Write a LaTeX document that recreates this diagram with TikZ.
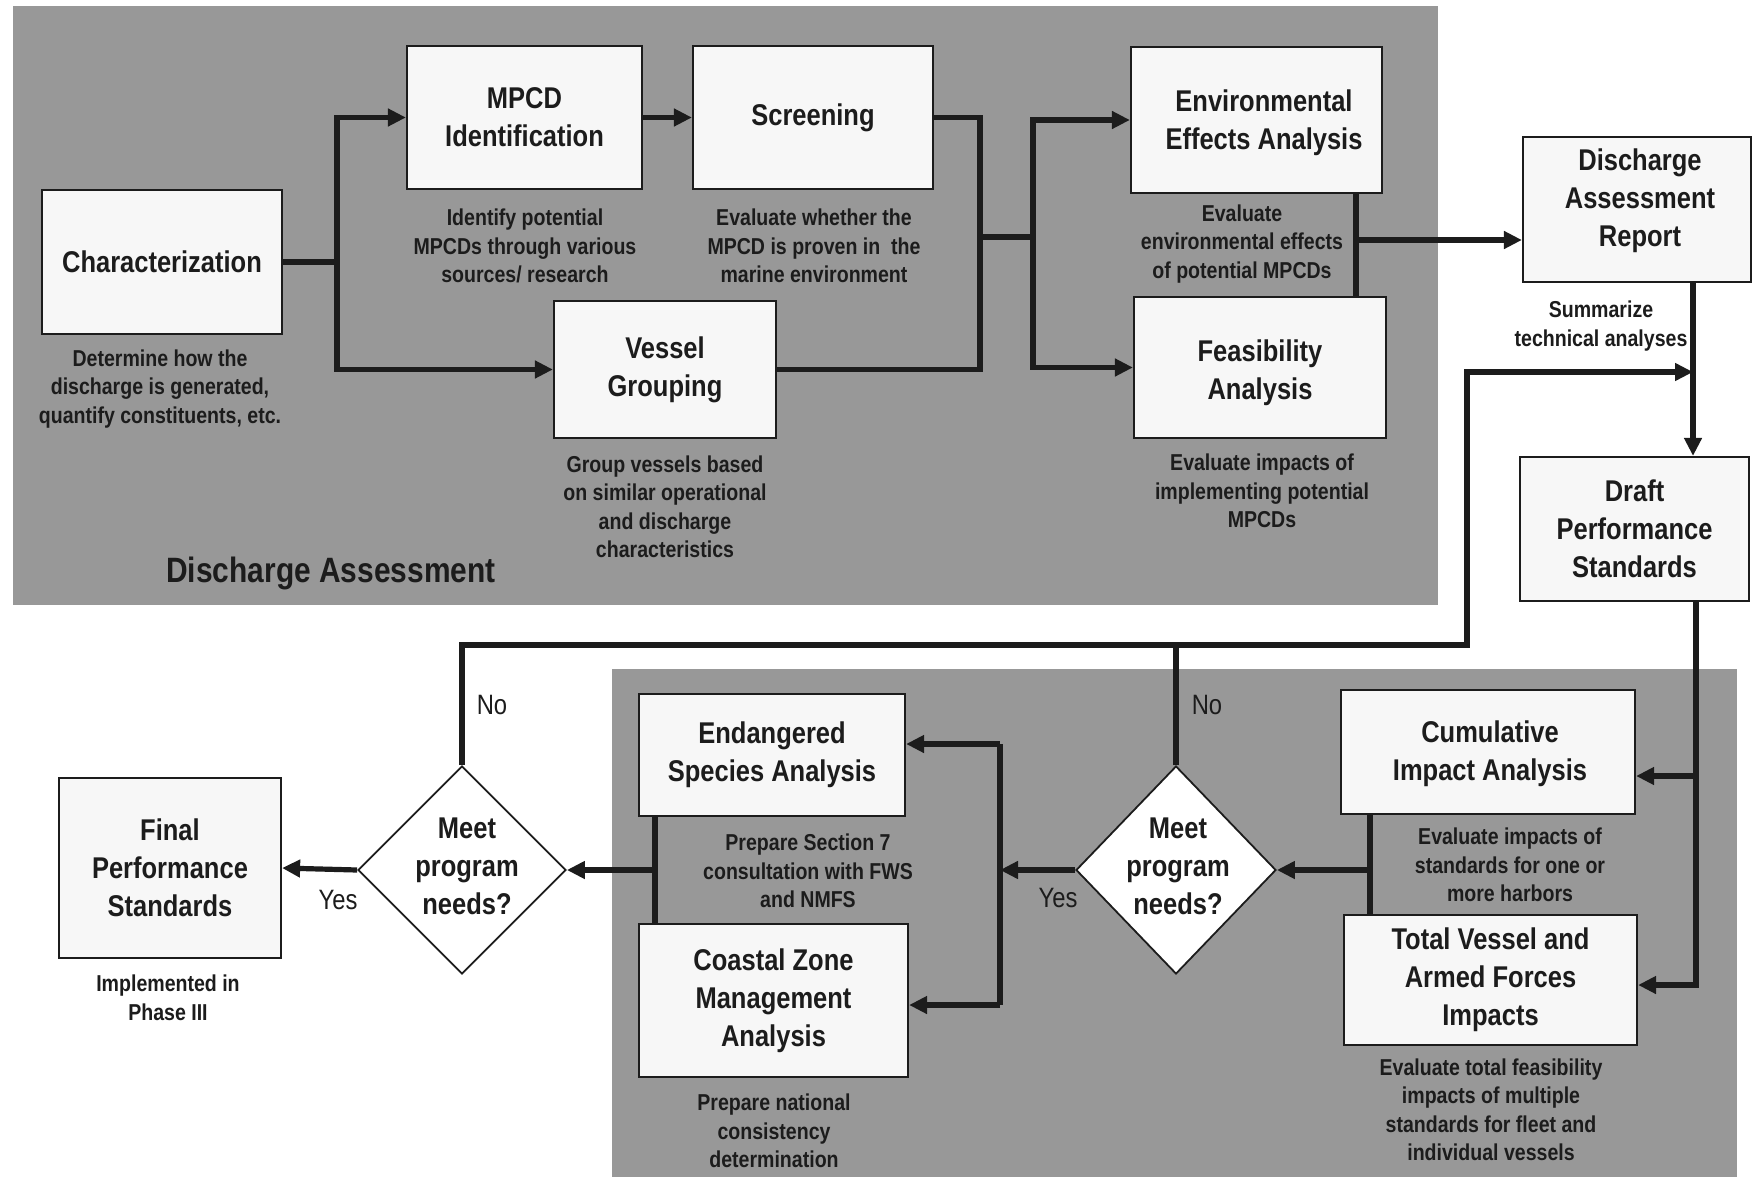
\documentclass[tikz,border=0pt]{standalone}
\usepackage{fontspec}
\setmainfont{Liberation Sans}[FakeStretch=0.85]
\usetikzlibrary{arrows.meta,shapes.geometric}
\definecolor{panel}{RGB}{152,152,152}
\definecolor{ink}{RGB}{28,28,28}
\definecolor{boxfill}{RGB}{247,247,247}
\begin{document}
\begin{tikzpicture}[x=0.5pt,y=-0.5pt,
  box/.style={draw=ink, line width=1.1pt, fill=boxfill, align=center, inner sep=2pt,
    font=\fontsize{15}{19}\selectfont\bfseries, text=ink},
  btext/.style={align=center, inner sep=0pt, font=\fontsize{15}{19}\selectfont\bfseries, text=ink},
  desc/.style={align=center, font=\fontsize{11.5}{14.25}\selectfont\bfseries, text=ink, inner sep=0pt},
  conn/.style={draw=ink, line width=2.6pt},
  arr/.style={conn, -{Triangle[length=9pt,width=8.5pt]}},
  dia/.style={diamond, draw=ink, line width=0.9pt, fill=white, inner sep=0pt},
  dtext/.style={align=center, font=\fontsize{15}{19}\selectfont\bfseries, text=ink, inner sep=0pt},
  yn/.style={font=\fontsize{14}{16}\selectfont, text=ink, inner sep=0pt},
]
\useasboundingbox (0,0) rectangle (1755,1177);
\fill[white] (0,0) rectangle (1755,1177);
\fill[panel] (13,6) rectangle (1438,605);
\fill[panel] (612,669) rectangle (1737,1177);

% boxes
\node[box, minimum width=120pt, minimum height=72pt] (char) at (162,262) {Characterization};
\node[box, minimum width=117.5pt, minimum height=71.5pt] (mpcd) at (524.5,117.5) {MPCD\\Identification};
\node[box, minimum width=120pt, minimum height=71.5pt] (screen) at (813,117.5) {Screening};
\node[box, minimum width=111pt, minimum height=68.5pt] (vessel) at (665,369.5) {Vessel\\Grouping};
\node[box, minimum width=125.5pt, minimum height=73pt] (env) at (1256.5,120) {};
\node[btext] (envt) at (1264,123) {Environmental\\Effects Analysis};
\node[box, minimum width=126pt, minimum height=70.5pt] (feas) at (1260,367.5) {};
\node[btext] (feast) at (1260,373) {Feasibility\\Analysis};
\node[box, minimum width=114pt, minimum height=72.5pt] (report) at (1637,209.5) {};
\node[btext] (reportt) at (1640,201) {Discharge\\Assessment\\Report};
\node[box, minimum width=114.5pt, minimum height=72pt] (draft) at (1634.5,529) {Draft\\Performance\\Standards};
\node[box, minimum width=147pt, minimum height=62pt] (cum) at (1488,752) {};
\node[btext] (cumt) at (1490,754) {Cumulative\\Impact Analysis};
\node[box, minimum width=146.5pt, minimum height=65pt] (total) at (1490.5,980) {Total Vessel and\\Armed Forces\\Impacts};
\node[box, minimum width=133pt, minimum height=61pt] (endang) at (772,755) {Endangered\\Species Analysis};
\node[box, minimum width=134.5pt, minimum height=76.5pt] (coastal) at (773.5,1000.5) {Coastal Zone\\Management\\Analysis};
\node[box, minimum width=111pt, minimum height=90pt] (final) at (170,868) {Final\\Performance\\Standards};

% diamonds
\node[dia, minimum width=104pt, minimum height=104pt] (d1) at (462,870) {};
\node[dtext] (d1t) at (467,866) {Meet\\program\\needs?};
\node[dia, minimum width=100pt, minimum height=104pt] (d2) at (1176,870) {};
\node[dtext] (d2t) at (1178,866) {Meet\\program\\needs?};

% descriptions
\node[desc] (chardesc) at (160,389) {Determine how the\\discharge is generated,\\quantify constituents, etc.};
\node[desc] (mpcddesc) at (525,246) {Identify potential\\MPCDs through various\\sources/ research};
\node[desc] (screendesc) at (814,246) {Evaluate whether the\\MPCD is proven in\ \ the\\marine environment};
\node[desc] (vesseldesc) at (665,507) {Group vessels based\\on similar operational\\and discharge\\characteristics};
\node[desc] (envdesc) at (1242,244) {Evaluate\\environmental effects\\of potential MPCDs};
\node[desc] (feasdesc) at (1262,491) {Evaluate impacts of\\implementing potential\\MPCDs};
\node[desc] (sumdesc) at (1601,326) {Summarize\\technical analyses};
\node[desc] (esdesc) at (808,871) {Prepare Section 7\\consultation with FWS\\and NMFS};
\node[desc] (czdesc) at (774,1131) {Prepare national\\consistency\\determination};
\node[desc] (cumdesc) at (1510,865) {Evaluate impacts of\\standards for one or\\more harbors};
\node[desc] (totdesc) at (1491,1110) {Evaluate total feasibility\\impacts of multiple\\standards for fleet and\\individual vessels};
\node[desc] (finaldesc) at (168,998) {Implemented in\\Phase III};
\node[font=\fontsize{17.6}{20}\selectfont\bfseries, text=ink, inner sep=0pt] (dalabel) at (331,573) {Discharge Assessment};

% labels
\node[yn] (no1) at (492,705) {No};
\node[yn] (no2) at (1207,705) {No};
\node[yn] (yes1) at (338,900) {Yes};
\node[yn] (yes2) at (1058,898) {Yes};

% junction coordinates
\coordinate (j1) at (337,262);
\coordinate (j2) at (980,237);
\coordinate (j3) at (1033,237);
\coordinate (j4) at (1356,240);
\coordinate (j5) at (1693,372);
\coordinate (c1) at (1467,645);
\coordinate (j6) at (1696,776);
\coordinate (j6b) at (1696,985);
\coordinate (j7) at (1370,870);
\coordinate (j8) at (1000,870);
\coordinate (j8a) at (1000,744);
\coordinate (j8b) at (1000,1005);
\coordinate (j9) at (655,870);

% connectors - top
\draw[conn] (char.east) -- (j1);
\draw[arr] (j1) |- (mpcd.west);
\draw[arr] (j1) |- (vessel.west);
\draw[arr] (mpcd.east) -- (screen.west);
\draw[conn] (screen.east) -| (j2) |- (vessel.east);
\draw[conn] (j2) -- (j3);
\draw[arr] (j3) |- (env.west);
\draw[arr] (j3) |- (feas.west);
\draw[conn] (env.south -| j4) -- (feas.north -| j4);
\draw[arr] (j4) -- (report.west |- j4);
\draw[arr] (report.south -| j5) -- (draft.north -| j5);
\draw[arr] (d1.north) |- (c1) |- (j5);
\draw[conn] (d2.north) -- (d2.north |- c1);

% connectors - bottom
\draw[arr] (draft.south -| j6) -- (j6b) -- (total.east |- j6b);
\draw[arr] (j6) -- (cum.east |- j6);
\draw[conn] (cum.south -| j7) -- (total.north -| j7);
\draw[arr] (j7) -- (d2.east);
\draw[arr] (d2.west) -- (j8);
\draw[conn] (j8a) -- (j8b);
\draw[arr] (j8a) -- (endang.east |- j8a);
\draw[arr] (j8b) -- (coastal.east |- j8b);
\draw[conn] (endang.south -| j9) -- (coastal.north -| j9);
\draw[arr] (j9) -- (d1.east);
\draw[arr] (d1.west) -- (final.east);
\end{tikzpicture}
\end{document}
